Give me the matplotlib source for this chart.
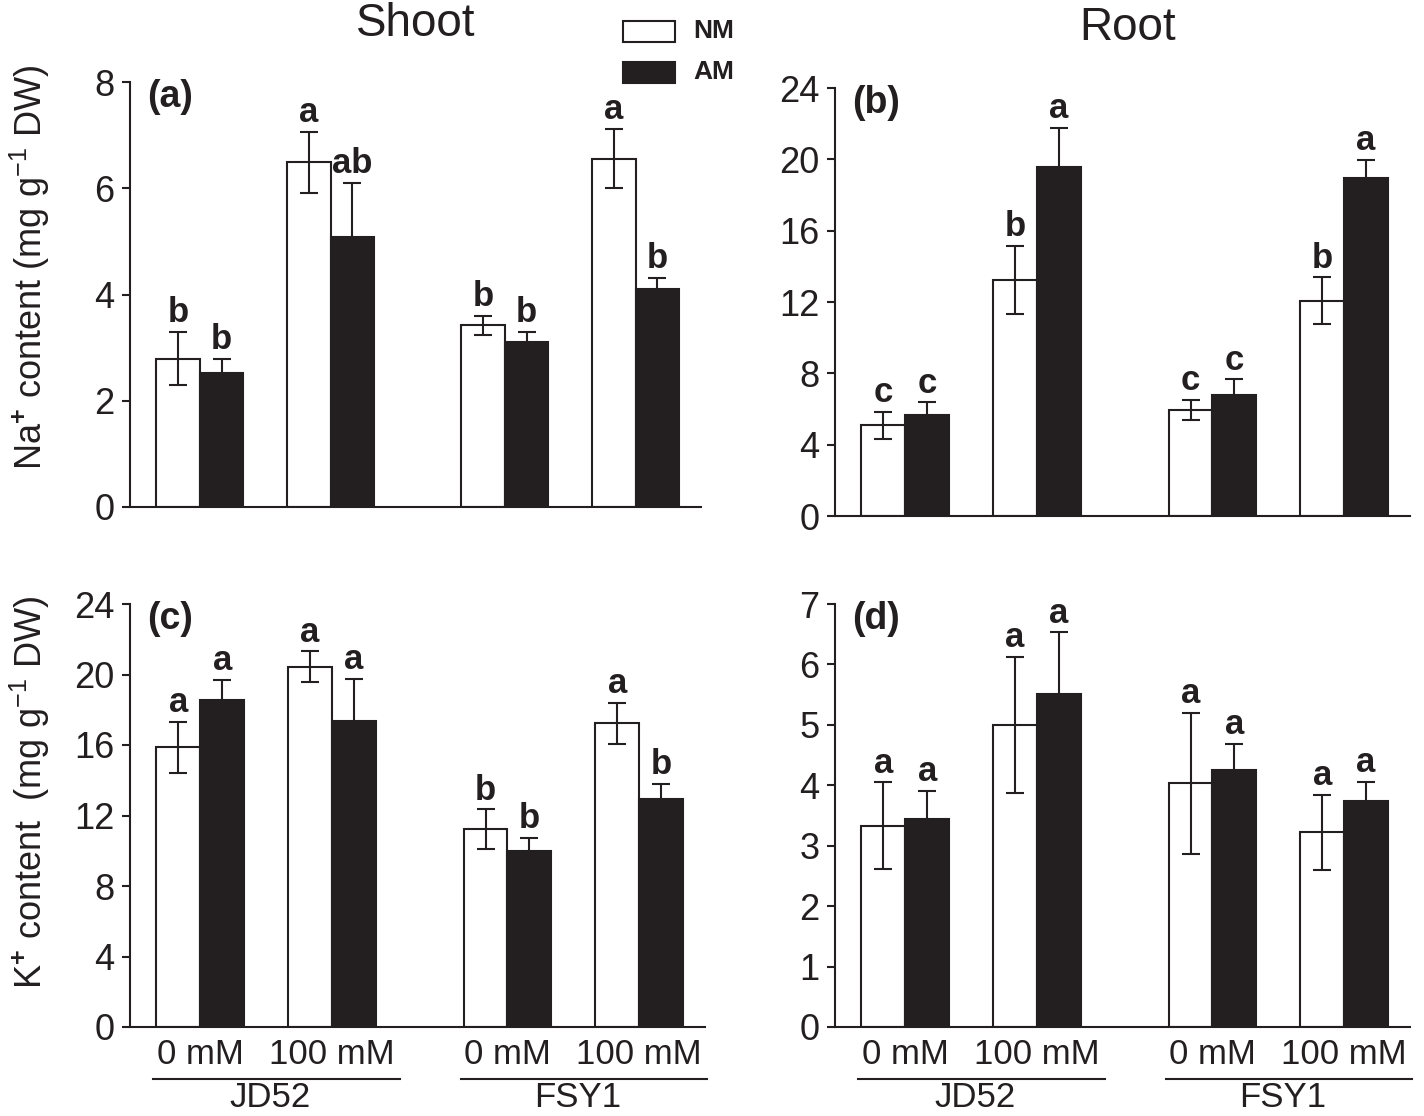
import numpy as np
import matplotlib
matplotlib.use('Agg')
import matplotlib.pyplot as plt
from matplotlib.patches import Rectangle

# ---- data ----
treatments = ['0 mM', '100 mM', '0 mM', '100 mM']
cultivars = ['JD52', 'FSY1']

na_shoot_nm = [2.79, 6.49, 3.42, 6.56]
na_shoot_nm_err = [0.50, 0.57, 0.18, 0.56]
na_shoot_am = [2.52, 5.08, 3.11, 4.11]
na_shoot_am_err = [0.27, 1.02, 0.18, 0.21]
na_shoot_let_nm = ['b', 'a', 'b', 'a']
na_shoot_let_am = ['b', 'ab', 'b', 'b']

na_root_nm = [5.08, 13.25, 5.95, 12.08]
na_root_nm_err = [0.77, 1.90, 0.56, 1.30]
na_root_am = [5.67, 19.58, 6.81, 18.95]
na_root_am_err = [0.71, 2.20, 0.85, 1.04]
na_root_let_nm = ['c', 'b', 'c', 'b']
na_root_let_am = ['c', 'a', 'c', 'a']

k_shoot_nm = [15.87, 20.44, 11.23, 17.22]
k_shoot_nm_err = [1.45, 0.87, 1.12, 1.18]
k_shoot_am = [18.54, 17.38, 9.99, 12.93]
k_shoot_am_err = [1.14, 2.36, 0.73, 0.87]
k_shoot_let_nm = ['a', 'a', 'b', 'a']
k_shoot_let_am = ['a', 'a', 'b', 'b']

k_root_nm = [3.33, 5.00, 4.03, 3.22]
k_root_nm_err = [0.72, 1.12, 1.17, 0.62]
k_root_am = [3.44, 5.51, 4.25, 3.74]
k_root_am_err = [0.47, 1.02, 0.44, 0.32]
k_root_let_nm = ['a', 'a', 'a', 'a']
k_root_let_am = ['a', 'a', 'a', 'a']

# ---- style ----
plt.rcParams['font.family'] = ['Liberation Sans', 'DejaVu Sans']
plt.rcParams['mathtext.fontset'] = 'custom'
plt.rcParams['mathtext.rm'] = 'Liberation Sans'
plt.rcParams['mathtext.it'] = 'Liberation Sans:italic'
plt.rcParams['mathtext.bf'] = 'Liberation Sans:bold'
ink = '#231f20'
plt.rcParams['text.color'] = ink

W, H = 1424, 1116
fig = plt.figure(figsize=(W / 100, H / 100), dpi=100)

group_x = np.array([0, 3, 7, 10])


def box(l, r, t, b):
    return [l / W, 1 - b / H, (r - l) / W, (b - t) / H]


def panel(rect, nm, nm_err, am, am_err, let_nm, let_am, ymax, step, tag, bottom=False):
    ax = fig.add_axes(box(*rect))
    ekw = dict(ecolor=ink, elinewidth=1.5, capsize=6.5, capthick=1.5)
    ax.bar(group_x - 0.5, nm, 1.0, yerr=nm_err, color='white', edgecolor=ink,
           linewidth=1.5, error_kw=ekw)
    ax.bar(group_x + 0.5, am, 1.0, yerr=am_err, color=ink, edgecolor=ink,
           linewidth=1.5, error_kw=ekw)
    for xs, vals, errs, labs in [(group_x - 0.5, nm, nm_err, let_nm),
                                 (group_x + 0.5, am, am_err, let_am)]:
        for xi, v, e, t in zip(xs, vals, errs, labs):
            ax.annotate(t, (xi, v + e), xytext=(0, 7), textcoords='offset points',
                        ha='center', va='baseline', fontsize=25, fontweight='bold')
    ax.set_xlim(-1.6, 11.5)
    ax.set_ylim(0, ymax)
    ax.set_yticks(np.arange(0, ymax + step / 2, step))
    for s in ['top', 'right']:
        ax.spines[s].set_visible(False)
    for s in ['left', 'bottom']:
        ax.spines[s].set_linewidth(1.5)
        ax.spines[s].set_color(ink)
    ax.tick_params(axis='y', length=6, width=1.5, pad=5, labelsize=26, colors=ink)
    ax.tick_params(axis='x', length=0, pad=8, labelsize=25, colors=ink)
    ax.text(0.03, 0.965, tag, transform=ax.transAxes, fontsize=27,
            fontweight='bold', va='center', ha='left')
    if bottom:
        ax.set_xticks(group_x, treatments)
        tr = ax.get_xaxis_transform()
        for i, name in enumerate(cultivars):
            g0, g1 = group_x[2 * i], group_x[2 * i + 1]
            ax.plot([g0 - 1.07, g1 + 1.55], [-0.123, -0.123], color=ink, lw=1.5,
                    transform=tr, clip_on=False)
            ax.text((g0 + g1) / 2 + 0.1, -0.19, name, transform=tr, ha='center',
                    va='baseline', fontsize=25)
    else:
        ax.set_xticks([])
    return ax


panel((130, 701, 82, 507), na_shoot_nm, na_shoot_nm_err, na_shoot_am, na_shoot_am_err,
      na_shoot_let_nm, na_shoot_let_am, 8, 2, '(a)')
panel((835, 1410, 88, 516), na_root_nm, na_root_nm_err, na_root_am, na_root_am_err,
      na_root_let_nm, na_root_let_am, 24, 4, '(b)')
panel((130, 705, 604, 1027), k_shoot_nm, k_shoot_nm_err, k_shoot_am, k_shoot_am_err,
      k_shoot_let_nm, k_shoot_let_am, 24, 4, '(c)', bottom=True)
panel((835, 1410, 604, 1027), k_root_nm, k_root_nm_err, k_root_am, k_root_am_err,
      k_root_let_nm, k_root_let_am, 7, 1, '(d)', bottom=True)

# y labels
fig.text(30 / W, 1 - 267 / H, r'Na$^{\mathbf{+}}$ content (mg g$^{-1}$ DW)', rotation=90,
         ha='center', va='center', fontsize=26)
fig.text(30 / W, 1 - 792 / H, r'K$^{\mathbf{+}}$ content  (mg g$^{-1}$ DW)', rotation=90,
         ha='center', va='center', fontsize=26)

# column titles
fig.text(416 / W, 1 - 36 / H, 'Shoot', ha='center', va='baseline', fontsize=33)
fig.text(1128 / W, 1 - 40 / H, 'Root', ha='center', va='baseline', fontsize=33)

# legend
fig.add_artist(Rectangle((623 / W, 1 - 42 / H), 52 / W, 21 / H, transform=fig.transFigure,
                         facecolor='white', edgecolor=ink, lw=1.5))
fig.add_artist(Rectangle((623 / W, 1 - 83 / H), 52 / W, 21 / H, transform=fig.transFigure,
                         facecolor=ink, edgecolor=ink, lw=1.5))
fig.text(693 / W, 1 - 31 / H, 'NM', ha='left', va='center', fontsize=19, fontweight='bold')
fig.text(693 / W, 1 - 72 / H, 'AM', ha='left', va='center', fontsize=19, fontweight='bold')

fig.savefig('out.png', dpi=100)
